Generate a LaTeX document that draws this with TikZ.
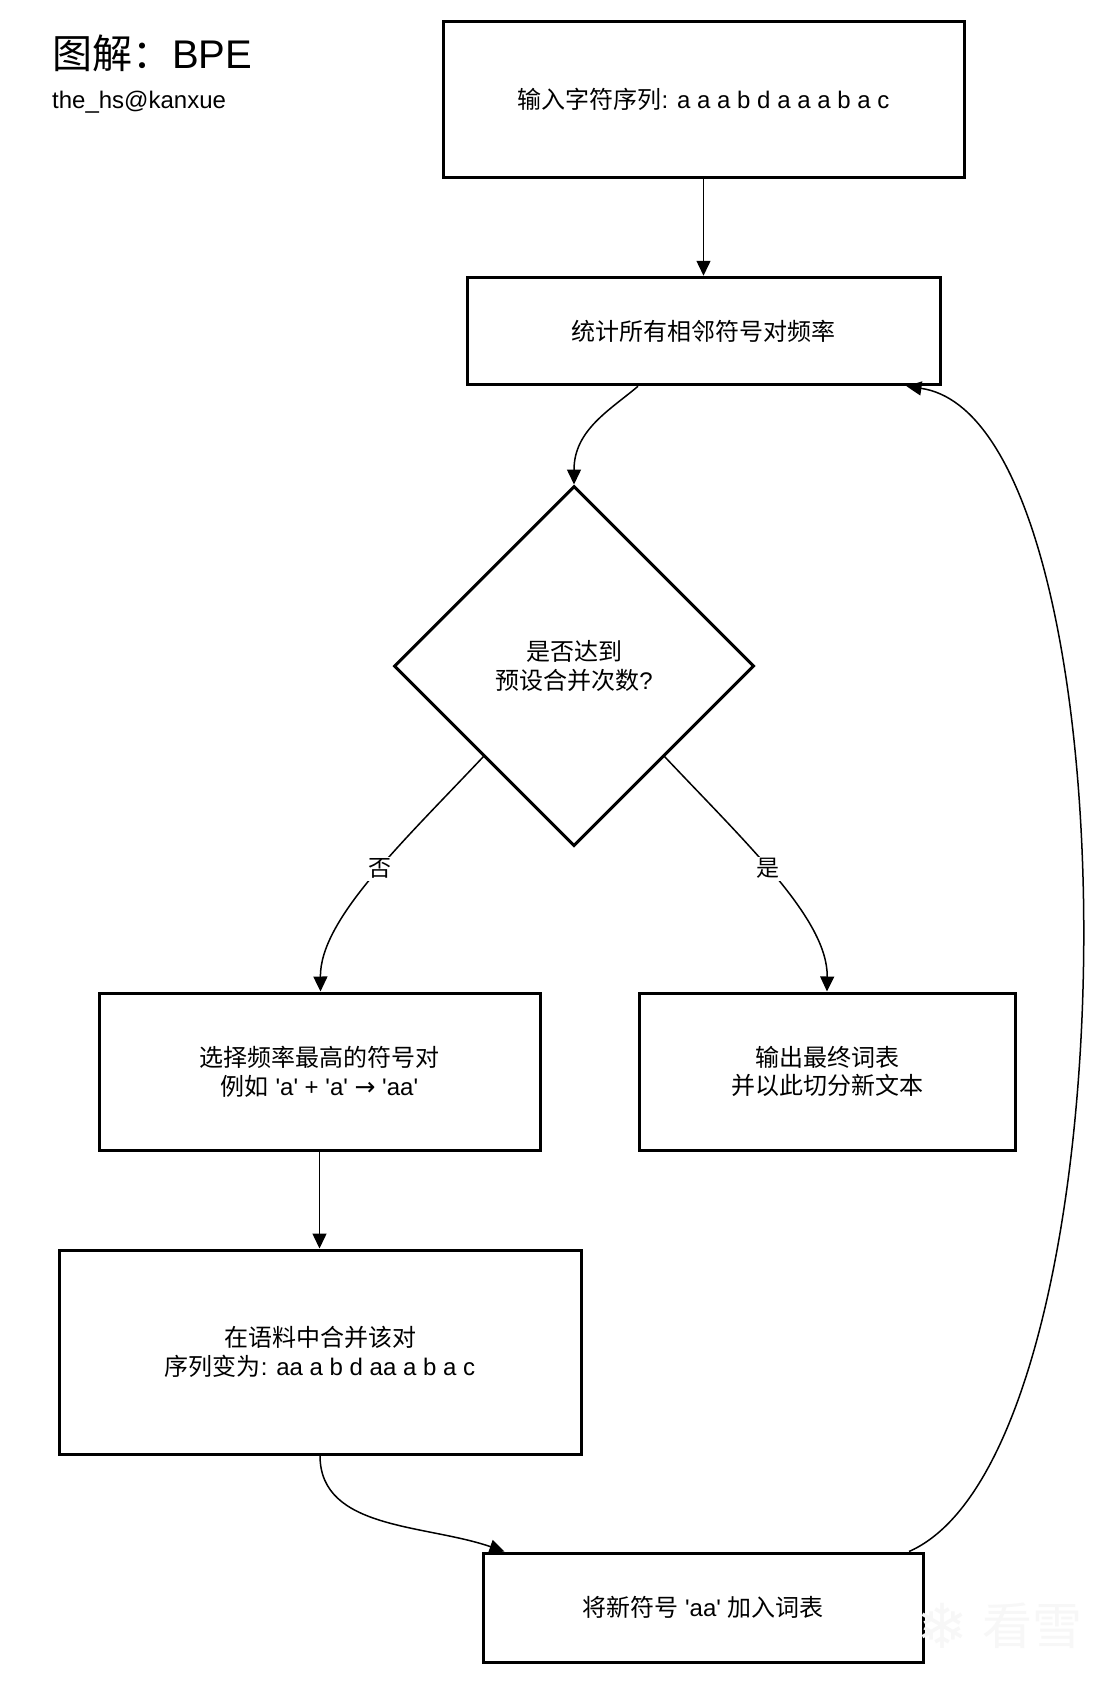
\documentclass[tikz,border=0pt]{standalone}
\usepackage{fontspec}
\newfontfamily\latin{Liberation Sans}
\newfontfamily\cjk{Noto Sans CJK SC}
\newfontfamily\djv{DejaVu Sans}
\newcommand\zh[1]{{\cjk #1}}
\usetikzlibrary{arrows.meta,shapes.geometric}
\begin{document}
\begin{tikzpicture}[x=1pt,y=-1pt,
  box/.style={draw, line width=3pt, rectangle, align=center, inner sep=0pt,
    font=\latin\fontsize{24}{28.8}\selectfont},
  dec/.style={draw, line width=3pt, diamond, align=center, inner sep=0pt,
    font=\latin\fontsize{24}{28.8}\selectfont},
  conn/.style={line width=1.5pt, -{Triangle[length=15pt,width=14pt]}},
  lbl/.style={fill=white, inner sep=2pt, font=\cjk\fontsize{23}{26}\selectfont},
  wmark/.style={text=black!3, inner sep=0pt}]
\useasboundingbox[fill=white] (0,0) rectangle (1108,1686);

% title
\node[anchor=base west, inner sep=0pt, font=\latin\fontsize{40}{44}\selectfont] (title) at (52,68) {\zh{图解：}BPE};
\node[anchor=base west, inner sep=0pt, font=\latin\fontsize{24}{28}\selectfont] (sub) at (52,108) {the\_hs@kanxue};

% nodes
\node[box, minimum width=521pt, minimum height=156pt] (b1) at (703.5,99.5) {\zh{输入字符序列}: a a a b d a a a b a c};
\node[box, minimum width=473pt, minimum height=107.5pt] (b2) at (703.5,331) {\zh{统计所有相邻符号对频率}};
\node[dec, minimum width=360pt, minimum height=360pt] (dia) at (574,666) {\zh{是否达到}\\\zh{预设合并次数}?};
\node[box, minimum width=441pt, minimum height=157pt] (b3) at (319.5,1071.5) {\zh{选择频率最高的符号对}\\\zh{例如} 'a' + 'a' {\djv\fontsize{25}{28}\selectfont →} 'aa'};
\node[box, minimum width=376pt, minimum height=157pt] (b4) at (827,1071.5) {\zh{输出最终词表}\\\zh{并以此切分新文本}};
\node[box, minimum width=522pt, minimum height=204pt] (b5) at (320,1352) {\zh{在语料中合并该对}\\\zh{序列变为}: aa a b d aa a b a c};
\node[box, minimum width=440pt, minimum height=109pt] (b6) at (703,1607.5) {\zh{将新符号} 'aa' \zh{加入词表}};

% watermark
\node[wmark, font=\djv\fontsize{62}{62}\selectfont] (flake) at (942,1626) {❄};
\node[wmark, anchor=west, font=\cjk\fontsize{50}{50}\selectfont] (wm) at (982,1626) {看雪};

% connectors
\draw[conn] (b1.south) -- (b2.north);
\draw[conn] ([xshift=-65.5pt]b2.south) .. controls (610,410) and (574,430) .. (dia.north);
\draw[conn] (dia.south west) .. controls (400,845) and (320,920) .. node[lbl, pos=0.45] (no) {否} ([xshift=1pt]b3.north);
\draw[conn] (dia.south east) .. controls (748,845) and (828,920) .. node[lbl, pos=0.45] (yes) {是} (b4.north);
\draw[conn] (b3.south) -- (b3.south |- b5.north);
\draw[conn] (b5.south) .. controls (320,1530) and (425,1524) .. ([xshift=-198.5pt]b6.north);
\draw[conn] ([xshift=206pt]b6.north) .. controls (1140,1450) and (1140,420) .. ([xshift=203pt]b2.south);
\end{tikzpicture}
\end{document}
